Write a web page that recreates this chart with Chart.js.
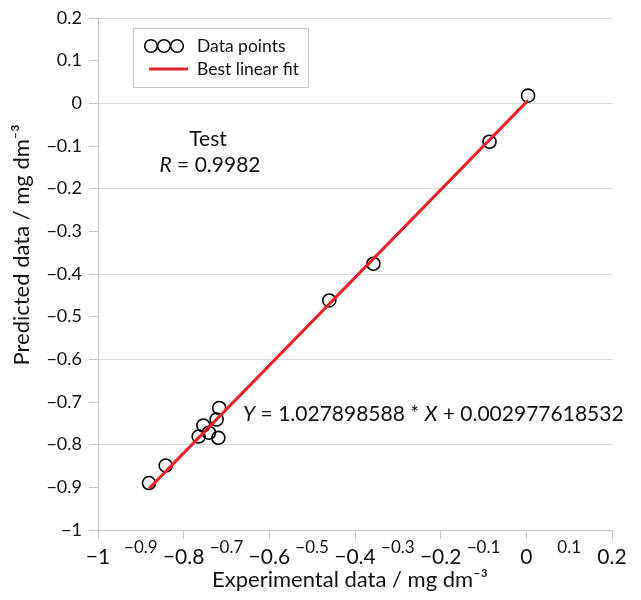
<!DOCTYPE html>
<html lang="en">
<head>
    <meta charset="UTF-8">
    <title>Test regression</title>
    <script src="https://cdn.jsdelivr.net/npm/chart.js"></script>
    <style>
        * { margin: 0; padding: 0; }
        body { background: #ffffff; }
        #wrap { width: 641px; height: 600px; }
    </style>
</head>
<body>
    <div id="wrap"><canvas id="chart1"></canvas></div>

    <script>
        // data
        const expX  = [0.004, -0.086, -0.357, -0.460, -0.881, -0.842, -0.717, -0.723, -0.754, -0.741, -0.765, -0.719];
        const predY = [0.018, -0.090, -0.376, -0.462, -0.890, -0.849, -0.714, -0.741, -0.755, -0.772, -0.781, -0.784];
        const fitX = [-0.881, 0.004];
        const fitY = [-0.903, 0.007];
        const axisMin = -1, axisMax = 0.2, axisStep = 0.1;

        const FONT = 'Lato, "Open Sans", sans-serif';
        const GRID = '#dadada';
        const AXIS = '#c4c4c4';

        function fmt(v) {
            const r = Math.round(v * 10) / 10;
            if (r === 0) return '0';
            return (r < 0 ? '\u2212' : '') + String(Math.abs(r));
        }
        function isMajor(ctx) {
            if (!ctx || !ctx.tick) return true;
            return Math.round(ctx.tick.value * 10) % 2 === 0;
        }

        const extras = {
            id: 'extras',
            afterDraw(chart) {
                const c = chart.ctx;
                c.save();
                // legend box
                c.fillStyle = '#fff';
                c.strokeStyle = '#c8c8c8';
                c.lineWidth = 1;
                c.fillRect(133.5, 28.5, 175, 59);
                c.strokeRect(133.5, 28.5, 175, 59);
                c.strokeStyle = '#000';
                c.lineWidth = 1.6;
                [151, 164, 177].forEach(cx => {
                    c.beginPath();
                    c.arc(cx, 46, 6.3, 0, Math.PI * 2);
                    c.stroke();
                });
                c.strokeStyle = '#e8232a';
                c.lineWidth = 3;
                c.beginPath();
                c.moveTo(149, 69);
                c.lineTo(188, 69);
                c.stroke();
                c.fillStyle = '#111';
                c.font = '17.5px ' + FONT;
                c.textBaseline = 'middle';
                c.textAlign = 'left';
                c.fillText('Data points', 197, 46);
                c.fillText('Best linear fit', 197, 69);

                // Test / R
                c.font = '21px ' + FONT;
                c.textAlign = 'center';
                c.fillText('Test', 208, 139);
                drawRich(c, [['R', true], [' = 0.9982', false]], 210, 165, 21, 'center');

                // equation
                drawRich(c, [['Y', true], [' = 1.027898588 * ', false], ['X', true], [' + 0.002977618532', false]], 243, 414, 21, 'left');

                // axis titles
                c.fillStyle = '#111';
                c.font = '22px ' + FONT;
                c.textAlign = 'center';
                c.textBaseline = 'middle';
                c.fillText('Experimental data / mg dm\u207B\u00B3', 350, 580);
                c.translate(22, 245);
                c.rotate(-Math.PI / 2);
                c.fillText('Predicted data / mg dm\u207B\u00B3', 0, 0);
                c.restore();
            }
        };

        function drawRich(c, parts, x, y, size, align) {
            let total = 0;
            parts.forEach(p => {
                c.font = (p[1] ? 'italic ' : '') + size + 'px ' + FONT;
                total += c.measureText(p[0]).width;
            });
            let cx = align === 'center' ? x - total / 2 : x;
            c.textAlign = 'left';
            c.textBaseline = 'middle';
            parts.forEach(p => {
                c.font = (p[1] ? 'italic ' : '') + size + 'px ' + FONT;
                c.fillText(p[0], cx, y);
                cx += c.measureText(p[0]).width;
            });
        }

        new Chart(document.getElementById('chart1'), {
            data: {
                datasets: [{
                    type: 'line',
                    label: 'Best linear fit',
                    data: fitX.map((x, i) => ({ x: x, y: fitY[i] })),
                    borderColor: '#e8232a',
                    borderWidth: 3,
                    pointRadius: 0,
                    fill: false,
                    order: 0
                }, {
                    type: 'scatter',
                    label: 'Data points',
                    data: expX.map((x, i) => ({ x: x, y: predY[i] })),
                    pointStyle: 'circle',
                    pointRadius: 6.5,
                    pointBorderWidth: 1.6,
                    borderColor: '#000',
                    backgroundColor: 'rgba(0,0,0,0)',
                    order: 1
                }]
            },
            options: {
                responsive: true,
                maintainAspectRatio: false,
                animation: false,
                layout: { padding: { top: 18, right: 29, left: 0, bottom: 0 } },
                plugins: {
                    legend: { display: false },
                    tooltip: { enabled: false }
                },
                scales: {
                    x: {
                        type: 'linear',
                        min: axisMin,
                        max: axisMax,
                        afterFit: s => { s.height = 70; },
                        border: { color: AXIS },
                        grid: {
                            drawOnChartArea: false,
                            tickLength: 9,
                            tickColor: ctx => isMajor(ctx) ? AXIS : 'rgba(0,0,0,0)'
                        },
                        ticks: {
                            stepSize: axisStep,
                            autoSkip: false,
                            maxRotation: 0,
                            padding: 2,
                            color: '#111',
                            font: ctx => isMajor(ctx)
                                ? { family: FONT, size: 21, lineHeight: 1.52 }
                                : { family: FONT, size: 17, lineHeight: 0.82 },
                            callback: v => fmt(v)
                        }
                    },
                    y: {
                        type: 'linear',
                        min: axisMin,
                        max: axisMax,
                        afterFit: s => { s.width = 98; },
                        border: { color: AXIS },
                        grid: {
                            tickLength: 9,
                            color: ctx => isMajor(ctx) ? GRID : 'rgba(0,0,0,0)',
                            tickColor: AXIS
                        },
                        ticks: {
                            stepSize: axisStep,
                            autoSkip: false,
                            padding: 7,
                            color: '#111',
                            font: { family: FONT, size: 18 },
                            callback: v => fmt(v)
                        }
                    }
                }
            },
            plugins: [extras]
        });
    </script>
</body>
</html>
